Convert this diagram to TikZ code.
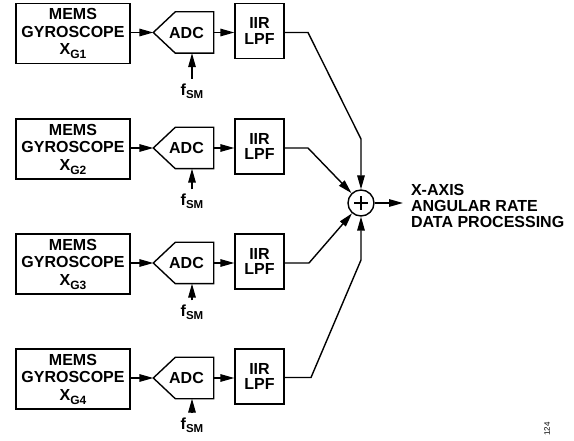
\documentclass[tikz,border=0pt]{standalone}
\usepackage{fontspec}
\setmainfont{Liberation Sans}
\usetikzlibrary{arrows.meta}
\begin{document}
\begin{tikzpicture}[x=1pt,y=-1pt, line width=1.4pt,
  >={Triangle[length=14pt,width=7.5pt]},
  every node/.style={font=\bfseries\fontsize{16}{17.5}\selectfont},
  memsbox/.style={draw, minimum width=114pt, minimum height=60pt, align=center, inner sep=0pt},
  iirbox/.style={draw, minimum width=49pt, minimum height=55pt, align=center, inner sep=0pt, font=\bfseries\fontsize{16}{15.5}\selectfont},
  adcbox/.style={minimum width=59pt, minimum height=40pt, inner sep=0pt},
  fsmtxt/.style={anchor=north, inner sep=0pt, outer sep=4.5pt}]
\useasboundingbox (0,0) rectangle (574,441);
\node[draw, circle, minimum size=26pt, inner sep=0pt] (sum) at (361,203) {};
\draw ([xshift=-7pt]sum.center) -- ([xshift=7pt]sum.center);
\draw ([yshift=-7pt]sum.center) -- ([yshift=7pt]sum.center);
\foreach \i/\r/\ft in {1/32.5/83.5,2/148/194,3/263/305,4/378/417.5}{
  \node[memsbox] (m\i) at (73,\r+1) {MEMS\\GYROSCOPE\\X\raisebox{-4pt}{\fontsize{12}{12}\selectfont G\i}};
  \node[adcbox] (a\i) at (183.5,\r) {\hspace{6pt}ADC};
  \draw (a\i.west) -- ([xshift=22pt]a\i.north west) -- (a\i.north east) -- (a\i.south east) -- ([xshift=22pt]a\i.south west) -- cycle;
  \node[iirbox] (f\i) at (259.5,\r-1.5) {IIR\\LPF};
  \node[fsmtxt] (s\i) at (192,\ft-4.5) {f\raisebox{-3pt}{\fontsize{11.5}{12}\selectfont SM}};
  \draw[->] (m\i.east |- a\i.west) -- (a\i.west);
  \draw[->] (a\i.east) -- (a\i.east -| f\i.west);
  \draw[->] (s\i.north) -- (s\i.north |- a\i.south);
}
\coordinate (k1) at (308,32.5);
\coordinate (k2) at (308,148);
\coordinate (k3) at (309,263);
\coordinate (k4) at (311,377.5);
\coordinate (j1) at (361,139);
\coordinate (j4) at (361,260);
\draw[->] (k1 -| f1.east) -- (k1) -- (j1) -- (sum.north);
\draw[->] (k2 -| f2.east) -- (k2) -- (sum);
\draw[->] (k3 -| f3.east) -- (k3) -- (sum);
\draw[->] (k4 -| f4.east) -- (k4) -- (j4) -- (sum.south);
\coordinate (o) at (403,203);
\draw[->] (sum.east) -- (o);
\node[anchor=west, align=left, font=\bfseries\fontsize{16}{16}\selectfont] (t) at (407,206) {X-AXIS\\ANGULAR RATE\\DATA PROCESSING};
\node[rotate=90, font=\fontsize{8}{8}\selectfont] (id) at (547,429) {124};
\end{tikzpicture}
\end{document}
